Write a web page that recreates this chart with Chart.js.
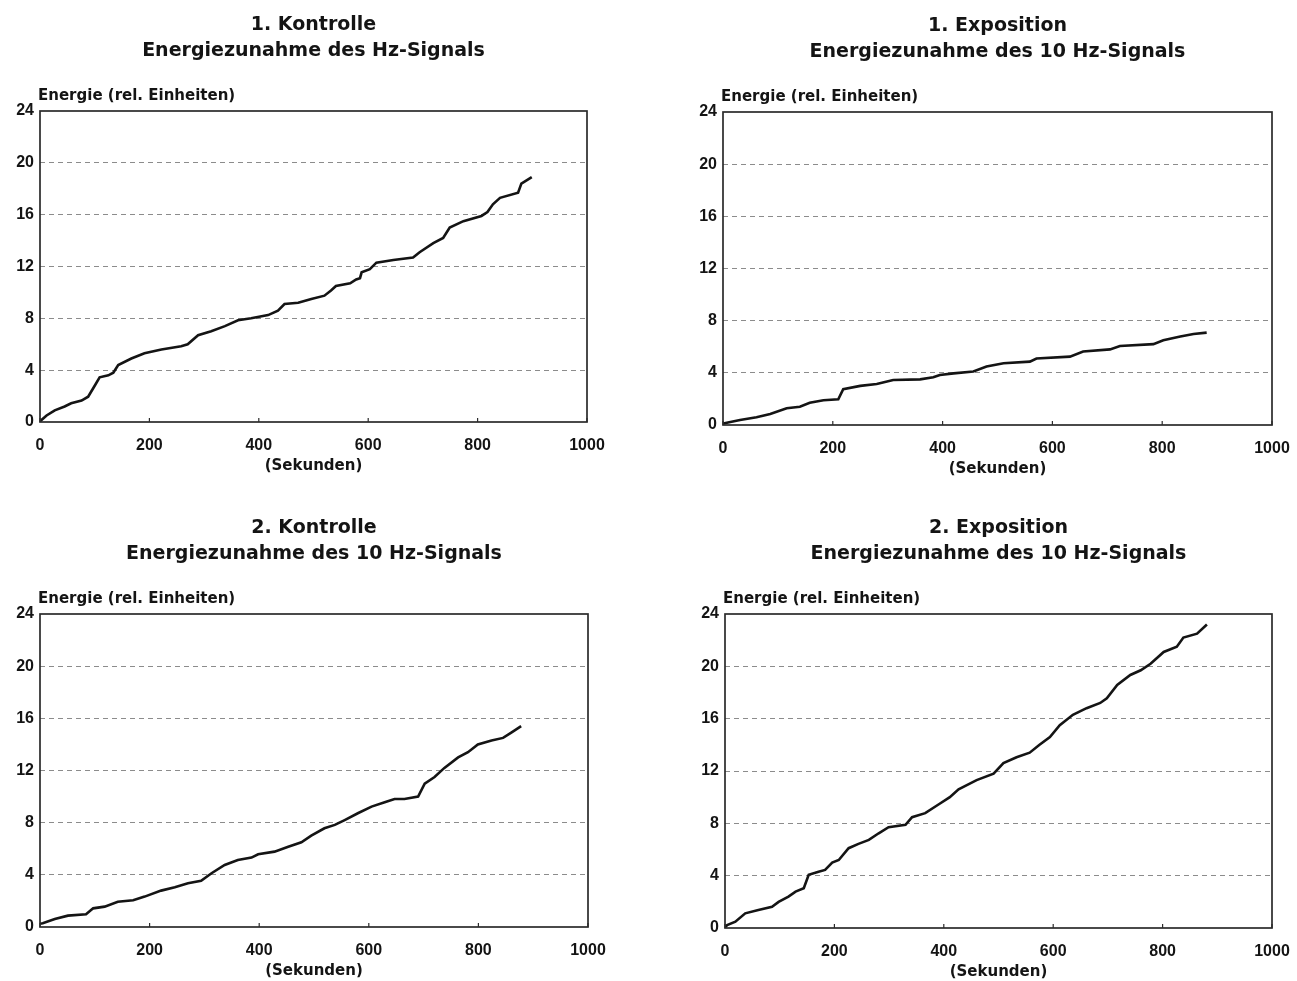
<!DOCTYPE html>
<html><head><meta charset="utf-8">
<script src="https://cdn.jsdelivr.net/npm/chart.js@4.4.1/dist/chart.umd.min.js"></script>
<style>
html,body{margin:0;padding:0;background:#fff;}
#wrap{position:relative;width:1297px;height:981px;overflow:hidden;background:#fff;}
canvas{position:absolute;}
</style></head><body>
<div id="wrap">
<canvas id="c1" width="648" height="490" style="left:0px;top:0px;width:648px;height:490px"></canvas>
<canvas id="c2" width="670" height="490" style="left:648px;top:0px;width:670px;height:490px"></canvas>
<canvas id="c3" width="648" height="491" style="left:0px;top:490px;width:648px;height:491px"></canvas>
<canvas id="c4" width="670" height="491" style="left:648px;top:490px;width:670px;height:491px"></canvas>
</div>
<script>
// ---- tick labels / texts ----
const xTicks = [0, 200, 400, 600, 800, 1000];
const yTicks = [0, 4, 8, 12, 16, 20, 24];
const yLabel = "Energie (rel. Einheiten)";
const xLabel = "(Sekunden)";
const titles1 = ["1. Kontrolle", "Energiezunahme des Hz-Signals"];
const titles2 = ["1. Exposition", "Energiezunahme des 10 Hz-Signals"];
const titles3 = ["2. Kontrolle", "Energiezunahme des 10 Hz-Signals"];
const titles4 = ["2. Exposition", "Energiezunahme des 10 Hz-Signals"];

// ---- series (seconds, relative energy) ----
const k1Sec = [0, 12, 27, 45, 57, 76, 88, 100, 109, 125, 134, 143, 167, 191, 222, 258, 270, 289, 313, 338, 362, 386, 417, 435, 447, 472, 496, 520, 532, 541, 567, 578, 585, 588, 603, 615, 646, 682, 694, 719, 737, 749, 774, 807, 818, 828, 841, 874, 880, 899];
const k1Energy = [0.05, 0.5, 0.9, 1.2, 1.45, 1.65, 1.95, 2.8, 3.45, 3.6, 3.8, 4.4, 4.9, 5.3, 5.6, 5.85, 6.0, 6.7, 7.0, 7.4, 7.85, 8.0, 8.25, 8.6, 9.1, 9.2, 9.5, 9.75, 10.15, 10.5, 10.7, 11.0, 11.1, 11.55, 11.8, 12.3, 12.5, 12.7, 13.1, 13.8, 14.2, 15.0, 15.5, 15.9, 16.2, 16.8, 17.3, 17.7, 18.4, 18.9];

const e1Sec = [0, 7, 31, 61, 86, 116, 140, 158, 183, 210, 219, 250, 280, 310, 359, 383, 395, 420, 456, 480, 511, 559, 571, 632, 656, 705, 723, 784, 802, 833, 857, 881];
const e1Energy = [0.1, 0.18, 0.38, 0.59, 0.84, 1.28, 1.4, 1.7, 1.9, 1.97, 2.74, 3.0, 3.15, 3.45, 3.5, 3.66, 3.84, 3.96, 4.1, 4.48, 4.73, 4.86, 5.1, 5.24, 5.63, 5.8, 6.06, 6.2, 6.5, 6.78, 6.98, 7.08];

const k2Sec = [0, 5, 27, 51, 84, 97, 118, 142, 170, 191, 221, 246, 270, 294, 313, 337, 361, 386, 398, 428, 453, 477, 495, 519, 538, 556, 580, 605, 629, 647, 665, 690, 702, 720, 738, 763, 781, 799, 824, 845, 860, 878];
const k2Energy = [0.25, 0.28, 0.61, 0.87, 0.97, 1.43, 1.56, 1.94, 2.05, 2.33, 2.79, 3.04, 3.35, 3.55, 4.12, 4.76, 5.14, 5.32, 5.58, 5.78, 6.16, 6.5, 7.0, 7.57, 7.83, 8.2, 8.72, 9.23, 9.57, 9.82, 9.82, 10.0, 11.0, 11.5, 12.2, 13.0, 13.4, 14.0, 14.3, 14.5, 14.9, 15.4];

const e2Sec = [0, 4, 19, 37, 61, 86, 98, 116, 129, 144, 153, 171, 183, 196, 208, 226, 244, 263, 281, 299, 330, 342, 366, 391, 411, 427, 460, 491, 509, 533, 557, 575, 594, 612, 636, 661, 686, 698, 717, 741, 760, 778, 802, 826, 838, 863, 881];
const e2Energy = [0.05, 0.23, 0.48, 1.12, 1.38, 1.63, 2.0, 2.4, 2.78, 3.04, 4.06, 4.3, 4.44, 5.0, 5.2, 6.1, 6.43, 6.73, 7.24, 7.7, 7.88, 8.47, 8.78, 9.46, 10.0, 10.6, 11.3, 11.8, 12.6, 13.05, 13.4, 14.0, 14.6, 15.5, 16.3, 16.8, 17.2, 17.56, 18.58, 19.34, 19.7, 20.2, 21.1, 21.5, 22.2, 22.5, 23.2];

// ---- decoration plugin: frame, inner x ticks, panel titles, y-axis caption ----
const decor = {
  id: 'decor',
  afterDraw(chart, args, opts) {
    const ctx = chart.ctx, a = chart.chartArea;
    ctx.save();
    ctx.strokeStyle = '#2b2b2b';
    ctx.lineWidth = 1.7;
    ctx.strokeRect(a.left, a.top, a.right - a.left, a.bottom - a.top);
    const xs = chart.scales.x;
    ctx.lineWidth = 1.2;
    xs.ticks.forEach(t => {
      const px = xs.getPixelForValue(t.value);
      ctx.beginPath(); ctx.moveTo(px, a.bottom); ctx.lineTo(px, a.bottom - 4); ctx.stroke();
    });
    ctx.fillStyle = '#141414';
    ctx.textAlign = 'center';
    ctx.textBaseline = 'middle';
    ctx.font = 'bold 19px "DejaVu Sans"';
    const cx = (a.left + a.right) / 2;
    ctx.fillText(opts.lines[0], cx, a.top - 86);
    ctx.fillText(opts.lines[1], cx, a.top - 60);
    ctx.font = 'bold 15px "DejaVu Sans"';
    ctx.textAlign = 'left';
    ctx.fillText(opts.ylabel, a.left - 2, a.top - 15);
    ctx.restore();
  }
};

function makeChart(id, sec, energy, lines, lay) {
  const pts = sec.map((s, i) => ({x: s, y: energy[i]}));
  return new Chart(document.getElementById(id), {
    type: 'line',
    data: {datasets: [{data: pts, borderColor: '#141414', borderWidth: 2.6, pointRadius: 0, tension: 0, fill: false}]},
    plugins: [decor],
    options: {
      responsive: false, animation: false, devicePixelRatio: 1,
      layout: {padding: {top: lay.top, right: lay.right, bottom: lay.bottom, left: 0}},
      plugins: {legend: {display: false}, tooltip: {enabled: false}, decor: {lines: lines, ylabel: yLabel}},
      scales: {
        x: {
          type: 'linear', min: 0, max: 1000,
          afterBuildTicks: s => { s.ticks = xTicks.map(v => ({value: v})); },
          afterFit: s => { s.height = 56; },
          grid: {display: false, drawTicks: false},
          border: {display: false},
          ticks: {padding: 14, color: '#141414', font: {family: 'Liberation Sans', weight: 'bold', size: 16}, maxRotation: 0,
                  callback: v => String(v)},
          title: {display: true, text: xLabel, color: '#141414', font: {family: 'DejaVu Sans', weight: 'bold', size: 15}, padding: {top: 0, bottom: 3}}
        },
        y: {
          type: 'linear', min: 0, max: 24,
          afterBuildTicks: s => { s.ticks = yTicks.map(v => ({value: v})); },
          afterFit: s => { s.width = lay.yw; },
          grid: {drawTicks: false, color: c => (c.tick && (c.tick.value === 0 || c.tick.value === 24)) ? 'rgba(0,0,0,0)' : '#8c8c8c', lineWidth: 1},
          border: {display: false, dash: [5, 4]},
          ticks: {padding: 6, color: '#141414', font: {family: 'Liberation Sans', weight: 'bold', size: 16}, callback: v => String(v)}
        }
      }
    }
  });
}

makeChart('c1', k1Sec, k1Energy, titles1, {top: 111, right: 61, bottom: 490 - 422 - 56, yw: 40});
makeChart('c2', e1Sec, e1Energy, titles2, {top: 112, right: 670 - 624, bottom: 490 - 425 - 56, yw: 75});
makeChart('c3', k2Sec, k2Energy, titles3, {top: 124, right: 60, bottom: 491 - 437 - 56, yw: 40});
makeChart('c4', e2Sec, e2Energy, titles4, {top: 124, right: 670 - 624, bottom: 491 - 438 - 56, yw: 77});
</script>
</body></html>
